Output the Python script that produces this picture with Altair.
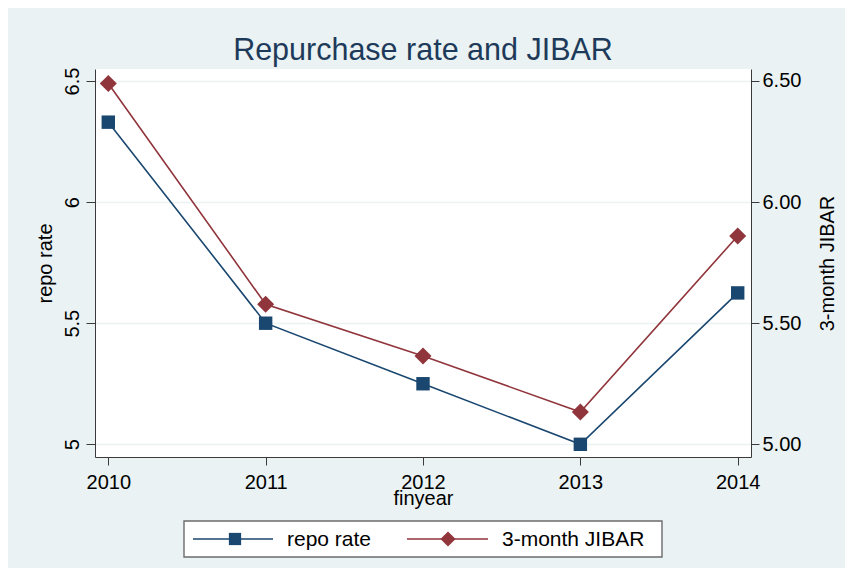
import altair as alt
import pandas as pd

years = [2010, 2011, 2012, 2013, 2014]
repo_rate = [6.33, 5.50, 5.25, 5.00, 5.625]
jibar = [6.49, 5.578, 5.365, 5.133, 5.86]
series_names = ["repo rate", "3-month JIBAR"]
left_ticks = [5, 5.5, 6, 6.5]
right_ticks = [5.0, 5.5, 6.0, 6.5]

REPO_C = "#1A476F"
JIBAR_C = "#90353B"
FONT = "Liberation Sans"
BG = "#EAF2F3"
AX = "#3a3a3a"

df = pd.DataFrame({"finyear": years, "repo": repo_rate, "jibar": jibar})

xdom = [2009.9155, 2014.0845]
ydom = [4.9476, 6.5495]

xaxis = alt.Axis(values=years, format="d", title="finyear", grid=False,
                 domainColor=AX, tickColor=AX, tickSize=8, labelPadding=7,
                 labelFontSize=20, labelFont=FONT, labelColor="black",
                 titleFontSize=20, titleFont=FONT, titleFontWeight="normal",
                 titleColor="black", titleX=328, titleY=47,
                 titleBaseline="alphabetic", titleAlign="center")

repo = alt.Chart(df).mark_line(
    color=REPO_C, strokeWidth=1.6,
    point=alt.OverlayMarkDef(shape="square", size=180, filled=True,
                             color=REPO_C, opacity=1)
).encode(
    x=alt.X("finyear:Q", scale=alt.Scale(domain=xdom, nice=False, zero=False), axis=xaxis),
    y=alt.Y("repo:Q", scale=alt.Scale(domain=ydom, nice=False, zero=False),
            axis=alt.Axis(orient="left", values=left_ticks, format="~g", title="repo rate",
                          grid=True, gridColor=BG, gridWidth=1.5,
                          domainColor=AX, tickColor=AX, tickSize=9,
                          labelAngle=270, labelAlign="center", labelBaseline="bottom",
                          labelPadding=4, labelFontSize=20, labelFont=FONT,
                          labelColor="black",
                          titleFontSize=20, titleFont=FONT, titleFontWeight="normal",
                          titleColor="black", titleAngle=270, titleX=-50, titleY=194,
                          titleAlign="center", titleBaseline="middle")),
)

jib = alt.Chart(df).mark_line(
    color=JIBAR_C, strokeWidth=1.6,
    point=alt.OverlayMarkDef(shape="diamond", size=290, filled=True,
                             color=JIBAR_C, opacity=1)
).encode(
    x=alt.X("finyear:Q", scale=alt.Scale(domain=xdom, nice=False, zero=False), axis=xaxis),
    y=alt.Y("jibar:Q", scale=alt.Scale(domain=ydom, nice=False, zero=False),
            axis=alt.Axis(orient="right", values=right_ticks, format=".2f",
                          title="3-month JIBAR", grid=False,
                          domainColor=AX, tickColor=AX, tickSize=8,
                          labelPadding=3, labelFontSize=20, labelFont=FONT,
                          labelColor="black", labelAlign="left",
                          titleFontSize=20, titleFont=FONT, titleFontWeight="normal",
                          titleColor="black", titleAngle=270, titleX=76, titleY=194,
                          titleAlign="center", titleBaseline="middle")),
)

one = pd.DataFrame({"k": [0]})
legend_box = alt.Chart(one).mark_rect(fill="white", stroke="#6b6b6b", strokeWidth=1.4).encode(
    x=alt.value(89), x2=alt.value(567), y=alt.value(452), y2=alt.value(488))

def legend_item(name, color, shape, size, x0, x1, xm, xt):
    d = pd.DataFrame({"name": [name]})
    rule = alt.Chart(d).mark_rule(color=color, strokeWidth=1.6).encode(
        x=alt.value(x0), x2=alt.value(x1), y=alt.value(470))
    pt = alt.Chart(d).mark_point(shape=shape, size=size, filled=True, color=color, opacity=1).encode(
        x=alt.value(xm), y=alt.value(470))
    tx = alt.Chart(d).mark_text(align="left", baseline="middle", fontSize=21, font=FONT,
                                color="black").encode(
        x=alt.value(xt), y=alt.value(471), text="name:N")
    return [rule, pt, tx]

leg1 = legend_item(series_names[0], REPO_C, "square", 150, 98, 178, 140, 192)
leg2 = legend_item(series_names[1], JIBAR_C, "diamond", 230, 312, 393, 353, 407)

chart = alt.layer(repo, jib, legend_box, *leg1, *leg2).resolve_scale(
    y="independent"
).properties(
    width=656, height=388,
    title=alt.TitleParams("Repurchase rate and JIBAR", fontSize=30.5, font=FONT,
                          fontWeight="normal", color="#1E3A5A", anchor="middle",
                          frame="group", baseline="alphabetic", offset=8, dy=31),
    background=BG,
    autosize=alt.AutoSizeParams(type="none"),
    padding={"left": 87, "top": 61, "right": 94, "bottom": 111},
).configure_view(stroke=None, fill="white")

chart.save("out.html", embed_options={"renderer": "svg", "actions": False})
